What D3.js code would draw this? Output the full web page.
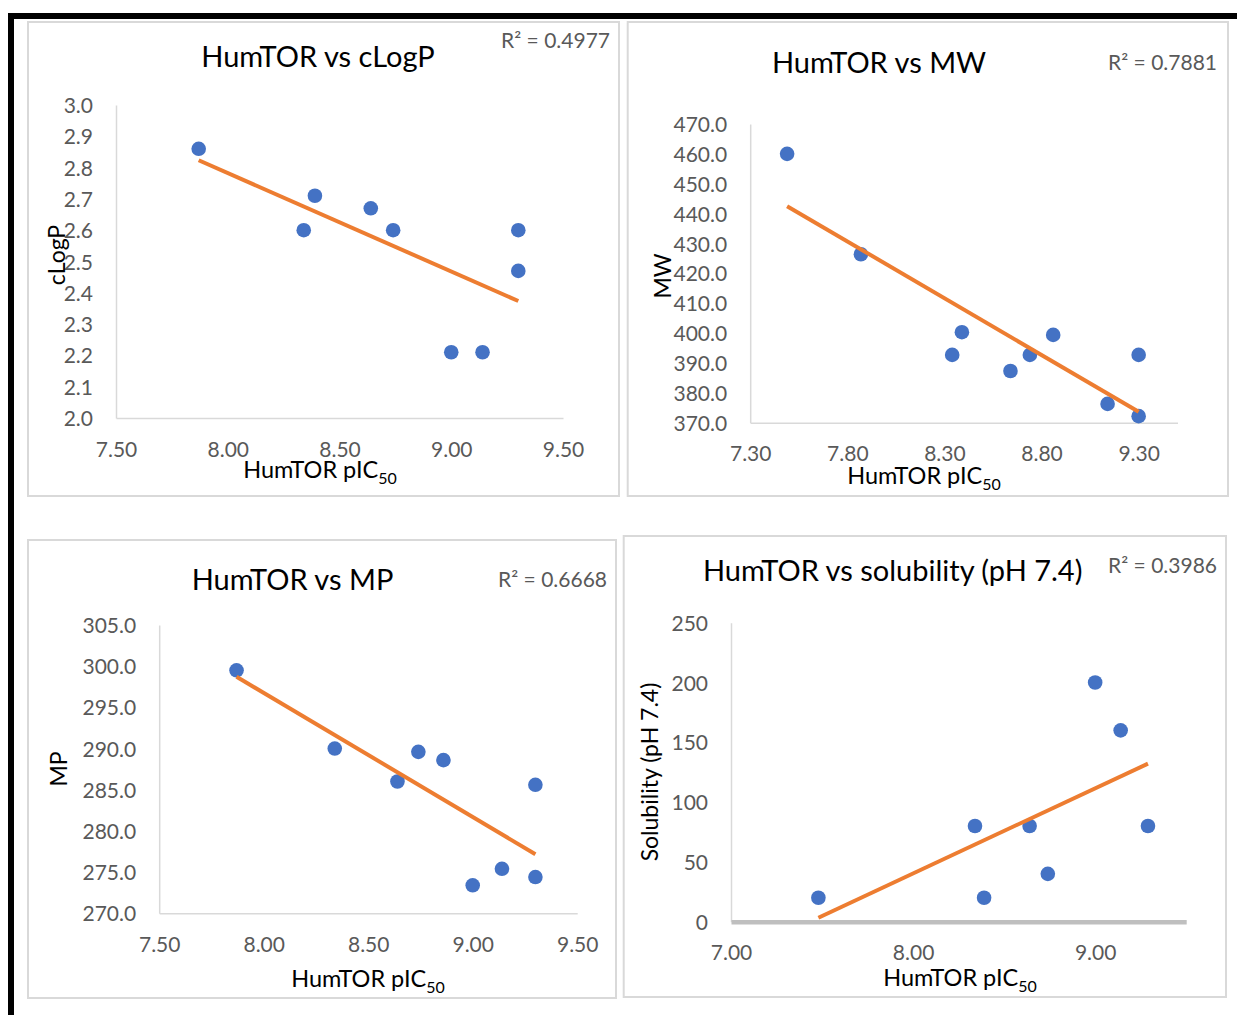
<!DOCTYPE html>
<html>
<head>
<meta charset="utf-8">
<script src="https://cdn.jsdelivr.net/npm/d3@7"></script>
<style>
  body { margin: 0; background: #fff; }
  svg { display: block; }
</style>
</head>
<body>
<svg id="chart" width="1238" height="1015"></svg>
<script>
// HumTOR potency (pIC50) plotted against four compound properties,
// each panel with a least-squares trend line.

// --- data -------------------------------------------------------------
const picClogp = [7.87, 8.39, 8.34, 8.64, 8.74, 9.30, 9.30, 9.00, 9.14];
const clogp    = [2.86, 2.71, 2.60, 2.67, 2.60, 2.60, 2.47, 2.21, 2.21];

const picMw = [7.49, 7.87, 8.39, 8.34, 8.64, 8.74, 8.86, 9.14, 9.30, 9.30];
const mw    = [460.0, 426.4, 400.3, 392.7, 387.3, 392.7, 399.4, 376.3, 392.7, 372.2];

const picMp = [7.87, 8.34, 8.64, 8.74, 8.86, 9.30, 9.14, 9.00, 9.30];
const mp    = [299.5, 290.0, 286.0, 289.6, 288.6, 285.6, 275.4, 273.4, 274.4];

const picSol     = [7.48, 8.34, 8.39, 8.64, 8.74, 9.00, 9.14, 9.29];
const solubility = [20, 80, 20, 80, 40, 200, 160, 80];

const titles   = ["HumTOR vs cLogP", "HumTOR vs MW", "HumTOR vs MP", "HumTOR vs solubility (pH 7.4)"];
const r2Labels = ["R² = 0.4977", "R² = 0.7881", "R² = 0.6668", "R² = 0.3986"];
const yTitles  = ["cLogP", "MW", "MP", "Solubility (pH 7.4)"];
const xTitleMain = "HumTOR pIC";
const xTitleSub  = "50";

const xDomainClogp = [7.5, 9.5], xTicksClogp = [7.5, 8.0, 8.5, 9.0, 9.5];
const yDomainClogp = [2.0, 3.0], yTicksClogp = [2.0, 2.1, 2.2, 2.3, 2.4, 2.5, 2.6, 2.7, 2.8, 2.9, 3.0];
const xDomainMw = [7.3, 9.5], xTicksMw = [7.3, 7.8, 8.3, 8.8, 9.3];
const yDomainMw = [370, 470], yTicksMw = [370, 380, 390, 400, 410, 420, 430, 440, 450, 460, 470];
const xDomainMp = [7.5, 9.5], xTicksMp = [7.5, 8.0, 8.5, 9.0, 9.5];
const yDomainMp = [270, 305], yTicksMp = [270, 275, 280, 285, 290, 295, 300, 305];
const xDomainSol = [7.0, 9.5], xTicksSol = [7.0, 8.0, 9.0];
const yDomainSol = [0, 250], yTicksSol = [0, 50, 100, 150, 200, 250];

const panels = [
  { xs: picClogp, ys: clogp, xDomain: xDomainClogp, yDomain: yDomainClogp, xTicks: xTicksClogp, yTicks: yTicksClogp, yFmt: ".1f" },
  { xs: picMw, ys: mw, xDomain: xDomainMw, yDomain: yDomainMw, xTicks: xTicksMw, yTicks: yTicksMw, yFmt: ".1f" },
  { xs: picMp, ys: mp, xDomain: xDomainMp, yDomain: yDomainMp, xTicks: xTicksMp, yTicks: yTicksMp, yFmt: ".1f" },
  { xs: picSol, ys: solubility, xDomain: xDomainSol, yDomain: yDomainSol, xTicks: xTicksSol, yTicks: yTicksSol, yFmt: "d" }
];

// --- layout -----------------------------------------------------------
const layout = [
  { frame: [28, 22, 591, 474], xRange: [116, 563], yRange: [418, 105],
    title: [318, 66.7], r2: [610, 48], yTitle: [65, 255], xTitle: [320, 478], xAxisColor: "#d9d9d9", xAxisWidth: 1.5 },
  { frame: [627.7, 22, 600.3, 474], xRange: [750.2, 1177.5], yRange: [422.7, 124],
    title: [879, 72.7], r2: [1217, 70], yTitle: [671, 276], xTitle: [924, 484], xAxisColor: "#d9d9d9", xAxisWidth: 1.5 },
  { frame: [28, 540, 588, 458], xRange: [159.2, 577.2], yRange: [913.3, 625],
    title: [292.5, 590], r2: [607, 586.7], yTitle: [67, 769], xTitle: [368, 987], xAxisColor: "#d9d9d9", xAxisWidth: 1.5 },
  { frame: [623.7, 536, 602.3, 461], xRange: [731, 1186.2], yRange: [921.7, 622.7],
    title: [892.7, 581], r2: [1217, 572.7], yTitle: [658, 772], xTitle: [960, 986], xAxisColor: "#bfbfbf", xAxisWidth: 4.5 }
];

const FONT = "Lato, 'Open Sans', 'Liberation Sans', sans-serif";
const DOT = "#4472C4", TREND = "#ED7D31", TICK_TEXT = "#595959";

// ordinary least squares fit: returns slope and intercept
function fit(xs, ys) {
  const mx = d3.mean(xs), my = d3.mean(ys);
  let sxy = 0, sxx = 0;
  xs.forEach((x, i) => { sxy += (x - mx) * (ys[i] - my); sxx += (x - mx) * (x - mx); });
  const slope = sxy / sxx;
  return { slope, intercept: my - slope * mx };
}

const svg = d3.select("#chart");
svg.append("rect").attr("width", 1238).attr("height", 1015).attr("fill", "#fff");

panels.forEach((p, i) => {
  const L = layout[i];
  const g = svg.append("g");

  g.append("rect")
    .attr("x", L.frame[0]).attr("y", L.frame[1])
    .attr("width", L.frame[2]).attr("height", L.frame[3])
    .attr("fill", "#fff").attr("stroke", "#d9d9d9").attr("stroke-width", 2);

  const x = d3.scaleLinear().domain(p.xDomain).range(L.xRange);
  const y = d3.scaleLinear().domain(p.yDomain).range(L.yRange);

  // y axis
  const ya = g.append("g")
    .attr("transform", `translate(${L.xRange[0]},0)`)
    .call(d3.axisLeft(y).tickValues(p.yTicks).tickFormat(d3.format(p.yFmt))
      .tickSize(0).tickSizeOuter(0).tickPadding(23));
  ya.attr("font-family", FONT).attr("font-size", 21);
  ya.select(".domain").attr("stroke", "#d9d9d9").attr("stroke-width", 1.5);
  ya.selectAll(".tick text").attr("fill", TICK_TEXT).attr("dy", "0.36em");

  // x axis
  const xa = g.append("g")
    .attr("transform", `translate(0,${L.yRange[0]})`)
    .call(d3.axisBottom(x).tickValues(p.xTicks).tickFormat(d3.format(".2f"))
      .tickSize(0).tickSizeOuter(0));
  xa.attr("font-family", FONT).attr("font-size", 21);
  xa.select(".domain").attr("stroke", L.xAxisColor).attr("stroke-width", L.xAxisWidth);
  xa.selectAll(".tick text").attr("fill", TICK_TEXT).attr("y", 31).attr("dy", "0.36em");

  // points
  g.append("g").selectAll("circle")
    .data(p.xs.map((v, k) => [v, p.ys[k]]))
    .join("circle")
    .attr("cx", d => x(d[0])).attr("cy", d => y(d[1]))
    .attr("r", 7.3).attr("fill", DOT);

  // linear trend line across the data range
  const f = fit(p.xs, p.ys);
  const ext = d3.extent(p.xs);
  g.append("line")
    .attr("x1", x(ext[0])).attr("y1", y(f.intercept + f.slope * ext[0]))
    .attr("x2", x(ext[1])).attr("y2", y(f.intercept + f.slope * ext[1]))
    .attr("stroke", TREND).attr("stroke-width", 4);

  // title
  g.append("text")
    .attr("x", L.title[0]).attr("y", L.title[1])
    .attr("text-anchor", "middle")
    .attr("font-family", FONT).attr("font-size", 29).attr("fill", "#000")
    .text(titles[i]);

  // R² annotation
  g.append("text")
    .attr("x", L.r2[0]).attr("y", L.r2[1])
    .attr("text-anchor", "end")
    .attr("font-family", FONT).attr("font-size", 21).attr("fill", TICK_TEXT)
    .text(r2Labels[i]);

  // axis titles
  g.append("text")
    .attr("transform", `translate(${L.yTitle[0]},${L.yTitle[1]}) rotate(-90)`)
    .attr("text-anchor", "middle")
    .attr("font-family", FONT).attr("font-size", 23).attr("fill", "#000")
    .text(yTitles[i]);

  const xt = g.append("text")
    .attr("x", L.xTitle[0]).attr("y", L.xTitle[1])
    .attr("text-anchor", "middle")
    .attr("font-family", FONT).attr("font-size", 23.5).attr("fill", "#000");
  xt.append("tspan").text(xTitleMain);
  xt.append("tspan").attr("font-size", 16).attr("dy", 6).text(xTitleSub);
});

// black frame along the top and left edges
svg.append("rect").attr("x", 8).attr("y", 13).attr("width", 1229).attr("height", 6).attr("fill", "#000");
svg.append("rect").attr("x", 8).attr("y", 13).attr("width", 6).attr("height", 1002).attr("fill", "#000");
</script>
</body>
</html>
